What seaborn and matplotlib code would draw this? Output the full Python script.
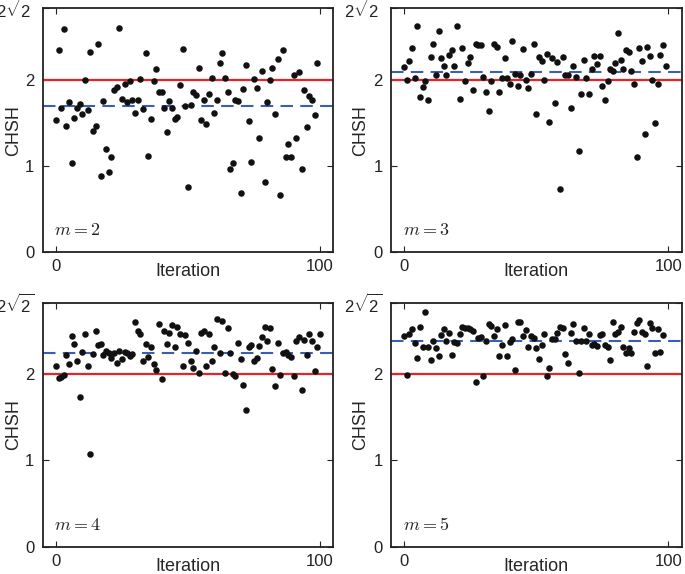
import numpy as np
import pandas as pd
import matplotlib
matplotlib.use("Agg")
import matplotlib.pyplot as plt
import seaborn as sns

# ---- data ----
chsh_m2 = [1.53, 2.34, 1.67, 2.59, 1.46, 1.74, 1.03, 1.56, 1.67, 1.72, 1.60, 2.00, 1.65, 2.32, 1.41,
           1.46, 2.42, 0.88, 1.75, 1.20, 0.93, 1.10, 1.88, 1.92, 2.60, 1.78, 1.95, 1.74, 1.98, 1.77,
           1.62, 1.77, 2.01, 1.66, 2.31, 1.12, 1.55, 1.98, 2.13, 1.86, 1.86, 1.67, 1.40, 1.75, 1.67,
           1.54, 1.57, 1.94, 2.36, 1.70, 0.76, 1.71, 1.86, 1.82, 2.14, 1.53, 1.76, 1.49, 1.83, 2.02,
           1.61, 1.76, 2.19, 2.31, 2.02, 1.86, 0.97, 1.04, 1.76, 1.75, 0.69, 1.89, 2.17, 1.52, 1.05,
           2.01, 1.90, 1.32, 2.10, 0.81, 1.74, 2.00, 2.14, 1.60, 2.24, 0.67, 2.35, 1.10, 1.25, 1.10,
           2.06, 1.32, 2.09, 0.97, 1.88, 1.45, 1.81, 1.76, 1.59, 2.20]
chsh_m3 = [2.15, 2.00, 2.22, 2.37, 2.02, 2.62, 1.80, 1.92, 1.99, 1.76, 2.26, 2.41, 2.05, 2.57, 2.25,
           2.16, 2.05, 2.29, 2.34, 2.16, 2.62, 1.78, 2.37, 1.99, 2.20, 2.26, 1.88, 2.42, 2.40, 2.40,
           2.03, 1.86, 1.64, 1.98, 2.41, 2.38, 1.86, 2.02, 2.25, 2.02, 1.95, 2.45, 2.07, 1.93, 2.05,
           2.36, 2.00, 1.91, 2.07, 2.42, 1.60, 2.26, 2.22, 2.00, 2.30, 1.51, 2.25, 1.73, 2.21, 0.73,
           2.26, 2.05, 2.06, 1.67, 2.16, 2.03, 1.18, 1.84, 2.23, 2.02, 1.84, 2.12, 2.27, 2.18, 2.28,
           1.93, 1.77, 1.99, 2.12, 2.10, 2.19, 2.54, 2.23, 2.12, 2.34, 2.32, 2.10, 1.95, 1.10, 2.37,
           2.22, 1.37, 2.38, 2.27, 2.00, 1.50, 1.95, 2.29, 2.40, 2.16]
chsh_m4 = [2.09, 1.95, 1.97, 1.99, 2.22, 2.12, 2.44, 2.35, 2.15, 1.74, 2.26, 2.47, 2.10, 1.08, 2.23,
           2.50, 2.34, 2.35, 2.22, 2.27, 2.25, 2.19, 2.24, 2.13, 2.27, 2.18, 2.26, 2.24, 2.21, 2.23,
           2.61, 2.50, 2.47, 2.15, 2.35, 2.20, 2.31, 2.12, 2.05, 2.58, 1.94, 2.50, 2.35, 2.48, 2.57,
           2.31, 2.55, 2.46, 2.09, 2.45, 2.36, 2.15, 2.07, 2.27, 2.01, 2.48, 2.50, 2.10, 2.46, 2.15,
           2.32, 2.64, 2.25, 2.62, 2.01, 2.53, 2.24, 2.00, 1.98, 2.36, 2.18, 1.87, 1.58, 2.31, 2.34,
           2.15, 2.19, 2.33, 2.43, 2.55, 2.39, 2.53, 2.06, 1.86, 2.36, 1.99, 2.24, 2.26, 2.22, 2.20,
           1.98, 2.38, 2.43, 1.82, 2.40, 2.22, 2.46, 2.39, 2.04, 2.32, 2.46]
chsh_m5 = [2.44, 1.99, 2.46, 2.52, 2.36, 2.19, 2.55, 2.31, 2.72, 2.31, 2.16, 2.39, 2.30, 2.21, 2.45,
           2.52, 2.39, 2.48, 2.22, 2.37, 2.36, 2.47, 2.55, 2.54, 2.53, 2.52, 2.50, 1.91, 2.42, 2.43,
           1.98, 2.38, 2.58, 2.56, 2.44, 2.52, 2.21, 2.34, 2.57, 2.21, 2.37, 2.41, 2.05, 2.61, 2.60,
           2.44, 2.51, 2.32, 2.44, 2.42, 2.30, 2.18, 2.34, 2.47, 1.98, 2.07, 2.41, 2.41, 2.48, 2.55,
           2.53, 2.23, 2.13, 2.48, 2.58, 2.39, 2.01, 2.39, 2.53, 2.38, 2.47, 2.34, 2.35, 2.33, 2.45,
           2.46, 2.34, 2.32, 2.16, 2.60, 2.47, 2.49, 2.55, 2.32, 2.24, 2.30, 2.24, 2.49, 2.59, 2.63,
           2.49, 2.47, 2.10, 2.59, 2.53, 2.25, 2.52, 2.26, 2.45]
m_values = [2, 3, 4, 5]
mean_lines = [1.70, 2.085, 2.25, 2.39]
classical_bound = 2.0
y_ticks = [0, 1, 2, 2 * np.sqrt(2)]
y_ticklabels = ["0", "1", "2", r"$2\sqrt{2}$"]
x_ticks = [0, 100]

series = [chsh_m2, chsh_m3, chsh_m4, chsh_m5]

sns.set_theme(style="ticks")
plt.rcParams.update({
    "font.family": ["Liberation Sans", "DejaVu Sans"],
    "mathtext.fontset": "custom",
    "mathtext.rm": "Liberation Sans",
    "mathtext.it": "Liberation Sans:italic",
    "xtick.direction": "in",
    "ytick.direction": "in",
    "xtick.top": True,
    "ytick.right": True,
    "xtick.major.size": 4.5,
    "ytick.major.size": 4.5,
    "xtick.major.width": 0.8,
    "ytick.major.width": 0.8,
    "axes.edgecolor": "#222222",
    "axes.linewidth": 1.3,
    "xtick.color": "#222222",
    "ytick.color": "#222222",
})

fig = plt.figure(figsize=(6.85, 5.74), dpi=100)
W, H = 685, 574
boxes = [(42.7, 8.3), (391, 8.3), (42.7, 302.7), (391, 302.7)]
aw, ah = 290.5, 244.0
label_x = [-0.071, -0.076, -0.071, -0.076]

for i, (vals, m, mu) in enumerate(zip(series, m_values, mean_lines)):
    lx, ty = boxes[i]
    ax = fig.add_axes([lx / W, 1 - (ty + ah) / H, aw / W, ah / H])
    df = pd.DataFrame({"Iteration": np.arange(len(vals)), "CHSH": vals})
    ax.axhline(classical_bound, color="#e3242b", lw=1.6, zorder=1)
    ax.axhline(mu, color="#3a5fb0", lw=1.5, ls=(0, (6, 3.5)), zorder=1)
    sns.scatterplot(data=df, x="Iteration", y="CHSH", ax=ax, color="#111111",
                    s=22, linewidth=0, zorder=3)
    ax.set_xlim(-5, 105)
    ax.set_ylim(0, 2 * np.sqrt(2))
    ax.set_xticks(x_ticks)
    ax.set_xticklabels([str(t) for t in x_ticks], fontsize=12)
    ax.set_yticks(y_ticks)
    ax.set_yticklabels(y_ticklabels, fontsize=12)
    ax.tick_params(axis="x", pad=5)
    ax.tick_params(axis="y", pad=6)
    ax.set_xlabel("Iteration", fontsize=13, labelpad=-8)
    ax.set_ylabel("CHSH", fontsize=13)
    ax.yaxis.set_label_coords(label_x[i], 0.5)
    ax.text(0.04, 0.07, rf"$m={m}$", transform=ax.transAxes, fontsize=13,
            math_fontfamily="cm", color="#222222")

fig.savefig("out.png", dpi=100)
